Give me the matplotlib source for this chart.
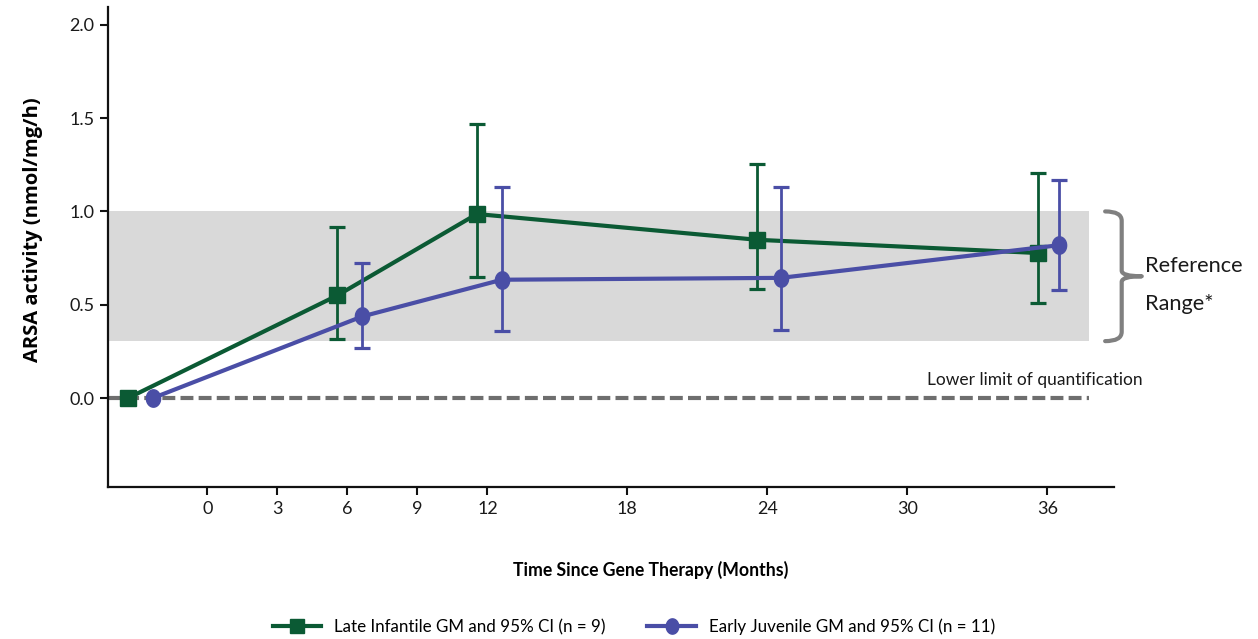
import matplotlib
matplotlib.use("Agg")
import matplotlib.pyplot as plt
import numpy as np
from matplotlib.path import Path
from matplotlib.lines import Line2D
import matplotlib.patches as mpatches

# ---------------- data ----------------
x_ticks = [0, 3, 6, 9, 12, 18, 24, 30, 36]
y_ticks = [0.0, 0.5, 1.0, 1.5, 2.0]

li_x = [-3.4, 5.57, 11.55, 23.57, 35.62]
li_gm = [0.0, 0.550, 0.986, 0.848, 0.777]
li_hi = [0.0, 0.914, 1.468, 1.255, 1.206]
li_lo = [0.0, 0.319, 0.650, 0.582, 0.509]

ej_x = [-2.34, 6.63, 12.62, 24.58, 36.5]
ej_gm = [0.0, 0.437, 0.634, 0.644, 0.819]
ej_hi = [0.0, 0.721, 1.133, 1.133, 1.169]
ej_lo = [0.0, 0.266, 0.357, 0.367, 0.580]

ref_low, ref_high = 0.305, 1.0
lloq = 0.0

li_label = "Late Infantile GM and 95% CI (n = 9)"
ej_label = "Early Juvenile GM and 95% CI (n = 11)"

# ---------------- style ----------------
GREEN = "#0b5a34"
BLUE = "#4a4ea6"
BAND = "#d9d9d9"
DASH = "#6e6e6e"
BRACK = "#808080"
TXT = "#1a1a1a"
NARROW = ["Lato", "DejaVu Sans"]

W, H = 1258, 639
fig = plt.figure(figsize=(W / 100, H / 100), dpi=100)
left_px, right_px, top_px, bot_px = 108.3, 1114, 6.7, 486.7
ax = fig.add_axes([left_px / W, 1 - bot_px / H, (right_px - left_px) / W, (bot_px - top_px) / H])

xmin, xmax = -4.25, 38.86
ymin, ymax = -0.475, 2.097
ax.set_xlim(xmin, xmax)
ax.set_ylim(ymin, ymax)

band_right = 37.8
ax.fill_between([xmin, band_right], ref_low, ref_high, color=BAND, lw=0, zorder=0)
ax.plot([xmin, band_right], [lloq, lloq], color=DASH, lw=3, dashes=(3.1, 1.25), zorder=1,
        solid_capstyle="butt")

# ellipse marker
t = np.linspace(0, 2 * np.pi, 60)
ell = Path(np.column_stack([0.82 * np.cos(t), np.sin(t)]), closed=True)

def series(x, gm, lo, hi, color, marker, ms, z):
    gm = np.array(gm); lo = np.array(lo); hi = np.array(hi)
    yerr = np.vstack([gm - lo, hi - gm])
    xe = np.array(x)[1:]
    ax.errorbar(xe, gm[1:], yerr=yerr[:, 1:], fmt="none", ecolor=color, elinewidth=2.0,
                capsize=5.5, capthick=2.3, zorder=z)
    ax.plot(x, gm, color=color, lw=3, marker=marker, ms=ms, mec=color, mfc=color, zorder=z + 1)

series(li_x, li_gm, li_lo, li_hi, GREEN, "s", 11, 3)
series(ej_x, ej_gm, ej_lo, ej_hi, BLUE, ell, 12.5, 5)

# spines / ticks
for s in ["top", "right"]:
    ax.spines[s].set_visible(False)
for s in ["left", "bottom"]:
    ax.spines[s].set_linewidth(1.6)
    ax.spines[s].set_color("#111111")
ax.set_xticks(x_ticks)
ax.set_xticklabels([str(v) for v in x_ticks], family=NARROW, fontsize=13, color=TXT)
ax.set_yticks(y_ticks)
ax.set_yticklabels([f"{v:.1f}" for v in y_ticks], family=NARROW, fontsize=13, color=TXT)
ax.tick_params(axis="both", direction="out", length=6, width=1.5, color="#111111", pad=4)
ax.set_facecolor("none")

# bracket
xv, xt, xs = 39.19, 40.05, 38.48
ymid = (ref_low + ref_high) / 2
ry = 0.05
verts = [
    (xs, ref_high), (xv, ref_high), (xv, ref_high - ry),
    (xv, ymid + ry * 0.6),
    (xv, ymid), (xt, ymid),
    (xv, ymid), (xv, ymid - ry * 0.6),
    (xv, ref_low + ry),
    (xv, ref_low), (xs, ref_low),
]
codes = [Path.MOVETO, Path.CURVE3, Path.CURVE3, Path.LINETO,
         Path.CURVE3, Path.CURVE3, Path.CURVE3, Path.CURVE3,
         Path.LINETO, Path.CURVE3, Path.CURVE3]
br = mpatches.PathPatch(Path(verts, codes), fill=False, ec=BRACK, lw=3, clip_on=False,
                        capstyle="round", joinstyle="round")
ax.add_patch(br)

texts = []
t1 = ax.text(40.2, 0.709, "Reference", family=NARROW, fontsize=19, color=TXT, va="center",
             ha="left", clip_on=False)
t2 = ax.text(40.2, 0.505, "Range*", family=NARROW, fontsize=19, color=TXT, va="center",
             ha="left", clip_on=False)
t3 = ax.text(30.85, 0.098, "Lower limit of quantification", family=NARROW, fontsize=13.5,
             color=TXT, va="center", ha="left")

# axis labels
t4 = fig.text(651 / W, 1 - 570 / H, "Time Since Gene Therapy (Months)", family=NARROW,
              fontweight="bold", fontsize=14, color="#000000", ha="center", va="center")
t5 = fig.text(33 / W, 1 - 230 / H, "ARSA activity (nmol/mg/h)", family=["Open Sans", "DejaVu Sans"],
              fontweight="bold", fontsize=14.5, color="#000000", ha="center", va="center",
              rotation=90)

# legend
h1 = Line2D([], [], color=GREEN, lw=3, marker="s", ms=10)
h2 = Line2D([], [], color=BLUE, lw=3, marker=ell, ms=11)
leg = fig.legend([h1, h2], [li_label, ej_label], loc="center",
                 bbox_to_anchor=(634 / W, 1 - 627 / H), ncol=2, frameon=False,
                 prop={"family": NARROW, "size": 13.5}, handlelength=2.6,
                 columnspacing=2.2, handletextpad=0.7)

# fit text widths to the reference
fig.canvas.draw()
r = fig.canvas.get_renderer()
def fit(txt, target, vertical=False):
    bb = txt.get_window_extent(r)
    cur = bb.height if vertical else bb.width
    txt.set_fontsize(txt.get_fontsize() * target / cur)

fit(t1, 98)
t2.set_fontsize(t1.get_fontsize())
fit(t3, 215)
fit(t4, 276)
fit(t5, 265, vertical=True)
lt = leg.get_texts()
bb = lt[0].get_window_extent(r)
fs = 13.5 * 274 / bb.width
for tt in lt:
    tt.set_fontsize(fs)

fig.savefig("out.png", dpi=100)
